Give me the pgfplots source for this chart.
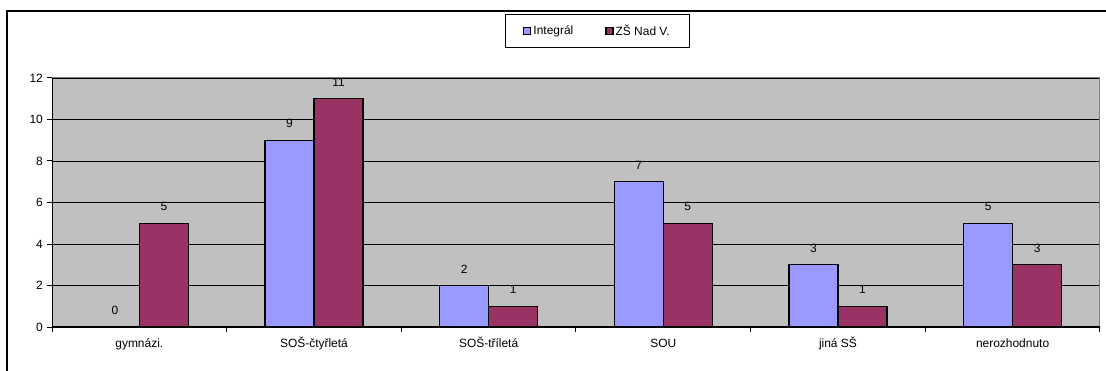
\documentclass[border=0pt]{standalone}
\usepackage{fontspec}
\setmainfont{Liberation Sans}
\usepackage{pgfplots}
\pgfplotsset{compat=1.18}
\definecolor{barblue}{HTML}{9999FF}
\definecolor{barred}{HTML}{993366}
\definecolor{plotgray}{HTML}{C0C0C0}
\definecolor{bordergray}{HTML}{808080}
\begin{document}
\begin{tikzpicture}[x=1bp,y=1bp]
\useasboundingbox (0,0) rectangle (1106,370);
\draw[line width=1.3bp] (7,-10) -- (7,359) -- (1120,359);
\begin{axis}[
  at={(52bp,43bp)}, anchor=south west,
  scale only axis, width=1048bp, height=249bp,
  ybar=0pt, bar width=49bp,
  xmin=-0.5, xmax=5.5, ymin=0, ymax=12,
  ytick={0,2,4,6,8,10,12},
  xtick={-0.5,0.5,1.5,2.5,3.5,4.5,5.5},
  xticklabels={},
  extra x ticks={0,1,2,3,4,5},
  extra x tick labels={gymnázi.,SOŠ-čtyřletá,SOŠ-tříletá,SOU,jiná SŠ,nerozhodnuto},
  extra x tick style={major tick length=0pt, xticklabel style={anchor=base, yshift=-20bp}},
  tick align=outside,
  tick pos=left,
  major tick length=5bp,
  tick style={black, line width=1bp},
  ymajorgrids,
  grid style={black, line width=0.8bp},
  axis line style={draw=bordergray, line width=1bp},
  axis background/.style={fill=plotgray},
  /pgf/number format/assume math mode=true,
  tick label style={font=\fontsize{12}{14}\selectfont, black},
  yticklabel style={anchor=east, inner sep=0pt, xshift=-4bp},
  nodes near coords,
  nodes near coords style={font=\fontsize{12}{14}\selectfont, anchor=base, inner sep=0pt, yshift=12.5bp, black},
  legend style={at={(0.5205,1.1876)}, anchor=center, legend columns=2,
    draw=black, line width=1bp, font=\fontsize{12}{14}\selectfont,
    inner xsep=18bp, inner ysep=8.5bp,
    nodes={inner xsep=2bp},
    /tikz/every even column/.append style={column sep=30bp}},
  legend image code/.code={\draw[#1, line width=1.3bp] (0bp,-3.5bp) rectangle (7bp,3.5bp);},
]
\addplot[fill=barblue, draw=black, line width=1.3bp] coordinates {(0,0) (1,9) (2,2) (3,7) (4,3) (5,5)};
\addplot[fill=barred, draw=black, line width=1.3bp] coordinates {(0,5) (1,11) (2,1) (3,5) (4,1) (5,3)};
\legend{Integrál,ZŠ Nad V.}
\draw[black, line width=1.3bp] (rel axis cs:0,1) -- (rel axis cs:0,0) -- (rel axis cs:1,0);
\end{axis}
\end{tikzpicture}
\end{document}
